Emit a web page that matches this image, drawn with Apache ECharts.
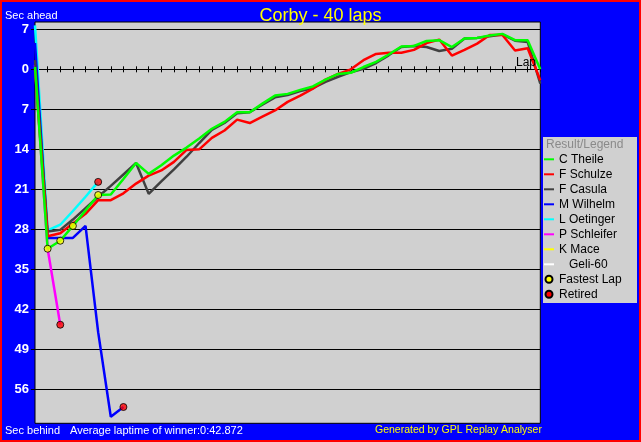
<!DOCTYPE html>
<html><head><meta charset="utf-8">
<script src="https://cdn.jsdelivr.net/npm/echarts@6/dist/echarts.min.js"></script>
<style>html,body{margin:0;padding:0;background:#0000ff}#c{width:641px;height:442px}</style>
</head><body><div id="c"></div>
<script>
const chartTitle = 'Corby - 40 laps';
const yTicks = [7, 0, -7, -14, -21, -28, -35, -42, -49, -56];

// seconds ahead (+) / behind (-), index = lap number (0..40)
const theile = [0.4, -31.4, -30.0, -27.4, -24.7, -22.0, -21.9, -19.2, -16.4, -18.3,
  -16.8, -15.1, -13.7, -12.1, -10.4, -9.2, -7.5, -7.5, -6.0, -4.6,
  -4.3, -3.6, -3.0, -1.8, -0.8, -0.6, 0.4, 1.3, 2.6, 4.0,
  4.1, 4.95, 5.1, 3.9, 5.4, 5.5, 5.9, 6.2, 5.1, 5.1, 0.0];
const schulze = [0.0, -29.2, -28.7, -27.0, -25.3, -22.9, -22.9, -21.7, -20.0, -18.6,
  -17.7, -16.2, -14.1, -14.0, -12.0, -10.7, -8.8, -9.4, -8.3, -7.2,
  -5.7, -4.6, -3.4, -1.8, -0.8, 0.0, 1.6, 2.7, 2.9, 2.9,
  3.4, 4.6, 5.2, 2.4, 3.4, 4.5, 6.0, 6.0, 3.3, 3.7, -1.9];
const casula = [1.6, -28.4, -28.1, -26.3, -24.3, -22.3, -20.4, -18.4, -16.4, -21.8,
  -19.6, -17.5, -15.3, -12.9, -10.6, -9.4, -7.7, -7.5, -6.2, -4.9,
  -4.5, -3.8, -3.3, -2.2, -1.3, -0.5, 0.1, 1.1, 2.45, 3.9,
  4.1, 3.9, 3.2, 3.6, 5.4, 5.5, 5.8, 6.1, 5.0, 4.8, -2.5];
const wilhelm = [4.6, -29.5, -29.5, -29.5, -27.4, -46.0, -60.8, -59.1];
const oetinger = [7.7, -28.2, -27.2, -24.8, -22.3, -19.7];
const schleifer = [0.8, -31.4, -44.7];
const mace = [];
const geli = [];

const fastestLapLaps = [1, 2, 3, 5];
const fastestLapSecs = [-31.4, -30.0, -27.4, -22.0];
const retiredLaps = [2, 5, 7];
const retiredSecs = [-44.7, -19.7, -59.1];

const pairs = arr => arr.map((v, i) => [i, v]);
const zip = (xs, ys) => xs.map((x, i) => [x, ys[i]]);

const FONT = 'Liberation Sans';
const Y_MIN = -61.95, Y_MAX = 8.28, GRID_TOP = 22, GRID_H = 401.3;
const zeroOffset = -GRID_H * Y_MAX / (Y_MAX - Y_MIN);

const lineSeries = (name, color, data) => ({
  name, type: 'line', data: pairs(data), symbol: 'none',
  lineStyle: { color, width: 2.5 }, itemStyle: { color },
  animation: false
});

const chart = echarts.init(document.getElementById('c'), null, { renderer: 'canvas' });
chart.setOption({
  backgroundColor: '#0000ff',
  animation: false,
  textStyle: { fontFamily: FONT },
  title: {
    text: chartTitle, left: 'center', top: 2,
    textStyle: { color: '#ffff00', fontSize: 18, fontWeight: 'normal', fontFamily: FONT }
  },
  grid: {
    left: 35, top: GRID_TOP, width: 505.3, height: GRID_H,
    show: true, backgroundColor: '#d0d0d0', borderColor: '#000', borderWidth: 1
  },
  xAxis: [{
    type: 'value', min: 0, max: 40, interval: 1,
    axisLine: { show: true, onZero: true, lineStyle: { color: '#000', width: 1 } },
    axisTick: { show: true, length: 3, lineStyle: { color: '#000' } },
    axisLabel: { show: false }, splitLine: { show: false }
  }, {
    type: 'value', min: 0, max: 40, interval: 1, position: 'top', offset: zeroOffset,
    axisLine: { show: false, onZero: false },
    axisTick: { show: true, length: 3, lineStyle: { color: '#000' } },
    axisLabel: { show: false }, splitLine: { show: false }
  }],
  yAxis: {
    type: 'value', min: Y_MIN, max: Y_MAX,
    axisLine: { show: false },
    axisTick: { show: true, customValues: yTicks, length: 4, lineStyle: { color: '#000' } },
    axisLabel: {
      customValues: yTicks, formatter: v => String(Math.abs(v)),
      color: '#fff', fontWeight: 'bold', fontSize: 13, margin: 6, fontFamily: FONT
    },
    splitLine: { show: true, lineStyle: { color: '#000', width: 1 } }
  },
  legend: {
    orient: 'vertical', left: 543, top: 151.8, padding: 0,
    itemWidth: 10, itemHeight: 7, itemGap: 0, selectedMode: false,
    itemStyle: { opacity: 0 },
    textStyle: { color: '#000', fontSize: 12, lineHeight: 15, fontFamily: FONT },
    data: ['C Theile', 'F Schulze', 'F Casula', 'M Wilhelm', 'L Oetinger',
      'P Schleifer', 'K Mace', '   Geli-60',
      { name: 'Fastest Lap', itemStyle: { opacity: 1 } },
      { name: 'Retired', itemStyle: { opacity: 1 } }]
  },
  graphic: [
    { type: 'rect', z: -1, shape: { x: 543, y: 137, width: 94, height: 166 }, style: { fill: '#d0d0d0' } },
    { type: 'text', x: 546, y: 145, style: { text: 'Result/Legend', fill: '#8a8a8a', font: '12px ' + FONT, verticalAlign: 'middle' } },
    { type: 'text', x: 5, y: 15.5, style: { text: 'Sec ahead', fill: '#fff', font: '11px ' + FONT, verticalAlign: 'middle' } },
    { type: 'text', x: 5, y: 430.5, style: { text: 'Sec behind', fill: '#fff', font: '11px ' + FONT, verticalAlign: 'middle' } },
    { type: 'text', x: 70, y: 430.5, style: { text: 'Average laptime of winner:0:42.872', fill: '#fff', font: '11px ' + FONT, verticalAlign: 'middle' } },
    { type: 'text', x: 375, y: 430.5, style: { text: 'Generated by GPL Replay Analyser', fill: '#ffff00', font: '10.5px ' + FONT, verticalAlign: 'middle' } },
    { type: 'text', x: 516, y: 63, z: 10, style: { text: 'Laps', width: 24, overflow: 'truncate', ellipsis: '', fill: '#000', font: '12px ' + FONT, verticalAlign: 'middle' } },
    { type: 'rect', z: 100, shape: { x: 1, y: 1, width: 639, height: 440 }, style: { fill: 'none', stroke: '#ff0000', lineWidth: 2 } }
  ],
  series: [
    lineSeries('L Oetinger', '#00ffff', oetinger),
    lineSeries('P Schleifer', '#ff00ff', schleifer),
    lineSeries('M Wilhelm', '#0000ff', wilhelm),
    lineSeries('F Casula', '#404040', casula),
    lineSeries('F Schulze', '#ff0000', schulze),
    lineSeries('C Theile', '#00ff00', theile),
    lineSeries('K Mace', '#ffff00', mace),
    lineSeries('   Geli-60', '#ffffff', geli),
    { name: 'Fastest Lap', type: 'scatter', data: zip(fastestLapLaps, fastestLapSecs), symbol: 'circle', symbolSize: 7, z: 5,
      itemStyle: { color: '#ffff00', borderColor: '#000', borderWidth: 1 } },
    { name: 'Retired', type: 'scatter', data: zip(retiredLaps, retiredSecs), symbol: 'circle', symbolSize: 7, z: 5,
      itemStyle: { color: '#ff0000', borderColor: '#000', borderWidth: 1 } }
  ]
});
</script></body></html>
